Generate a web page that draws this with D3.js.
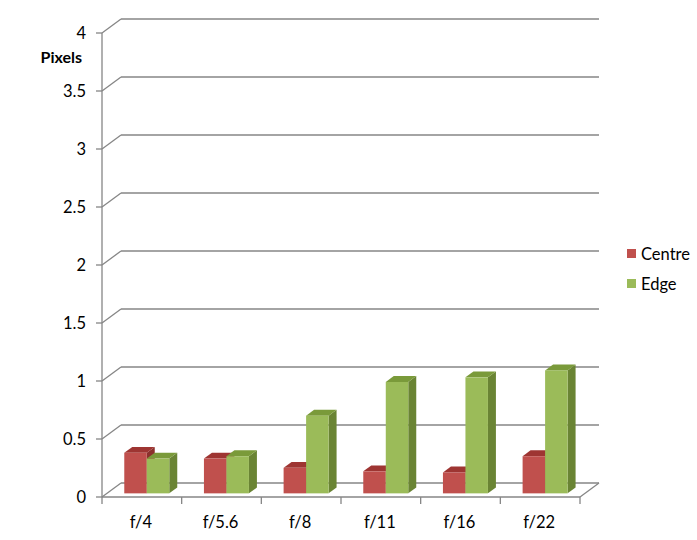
<!DOCTYPE html>
<html><head><meta charset="utf-8">
<script src="https://cdn.jsdelivr.net/npm/d3@7"></script>
<style>body{margin:0;background:#fff}svg{display:block}text{font-family:Lato,"Open Sans",sans-serif;fill:#000}</style>
</head><body><svg id="c" width="697" height="540"></svg>
<script>
const categories = ["f/4","f/5.6","f/8","f/11","f/16","f/22"];
const seriesNames = ["Centre","Edge"];
const centre = [0.35,0.30,0.22,0.19,0.18,0.32];
const edge = [0.30,0.32,0.67,0.96,1.00,1.06];
const yTicks = [0,0.5,1,1.5,2,2.5,3,3.5,4];
const yTickLabels = ["0","0.5","1","1.5","2","2.5","3","3.5","4"];

const colors = {
  Centre:{front:"#C0504D", top:"#9E3532", side:"#8C302D"},
  Edge:{front:"#9BBB59", top:"#7A9A3A", side:"#6A8434"}
};
const svg = d3.select("#c");
const L=102, R=580, DX=19, DY=-14;
const y = d3.scaleLinear().domain([0,4]).range([497,33]);
const x0 = d3.scaleBand().domain(categories).range([L,R]);
const bw = x0.bandwidth();
const barW = 22.5;
const x1 = d3.scaleBand().domain(seriesNames).range([bw/2-barW, bw/2+barW]);
const grid="#868686";

const g = svg.append("g");
yTicks.forEach((t,i)=>{
  const yf=y(t);
  g.append("line").attr("x1",L+DX).attr("x2",R+DX).attr("y1",yf+DY).attr("y2",yf+DY).attr("stroke",grid).attr("stroke-width",1.3);
  g.append("line").attr("x1",L).attr("x2",L+DX).attr("y1",yf).attr("y2",yf+DY).attr("stroke",grid).attr("stroke-width",1.3);
  g.append("line").attr("x1",L-6).attr("x2",L).attr("y1",yf).attr("y2",yf).attr("stroke",grid).attr("stroke-width",1.3);
  g.append("text").attr("x",86).attr("y",yf+6).attr("text-anchor","end").attr("font-size",16.5).text(yTickLabels[i]);
});
g.append("line").attr("x1",L).attr("x2",R).attr("y1",y(0)).attr("y2",y(0)).attr("stroke",grid).attr("stroke-width",1.3);
g.append("line").attr("x1",R).attr("x2",R+DX).attr("y1",y(0)).attr("y2",y(0)+DY).attr("stroke",grid).attr("stroke-width",1.3);
g.append("line").attr("x1",L).attr("x2",L).attr("y1",y(4)).attr("y2",y(0)).attr("stroke",grid).attr("stroke-width",1.3);
[...categories.map(c=>x0(c)), R].forEach(xx=>{
  g.append("line").attr("x1",xx).attr("x2",xx).attr("y1",y(0)).attr("y2",y(0)+7).attr("stroke",grid).attr("stroke-width",1.3);
});
categories.forEach(c=>{
  g.append("text").attr("x",x0(c)+bw/2-1).attr("y",528).attr("text-anchor","middle").attr("font-size",16.5).text(c);
});
svg.append("text").attr("x",82).attr("y",63).attr("text-anchor","end").attr("font-size",16).attr("font-weight","bold").text("Pixels");

const f0=0.26, f1=0.68;
const bars = svg.append("g");
categories.forEach((c,i)=>{
  [["Centre",centre[i]],["Edge",edge[i]]].forEach(([s,v])=>{
    const xa = x0(c)+x1(s)+f0*DX, xb = xa+x1.bandwidth();
    const yb = y(0)+f0*DY, yt = y(v)+f0*DY;
    const ddx=(f1-f0)*DX, ddy=(f1-f0)*DY;
    const col=colors[s];
    bars.append("path").attr("d",`M${xb},${yt}L${xb+ddx},${yt+ddy}L${xb+ddx},${yb+ddy}L${xb},${yb}Z`).attr("fill",col.side);
    bars.append("path").attr("d",`M${xa},${yt}L${xa+ddx},${yt+ddy}L${xb+ddx},${yt+ddy}L${xb},${yt}Z`).attr("fill",col.top);
    bars.append("rect").attr("x",xa).attr("y",yt).attr("width",xb-xa).attr("height",yb-yt).attr("fill",col.front);
  });
});

const leg = svg.append("g");
seriesNames.forEach((s,i)=>{
  const ly=254+i*30;
  leg.append("rect").attr("x",627).attr("y",ly-5).attr("width",9).attr("height",9).attr("fill",colors[s].front);
  leg.append("text").attr("x",641).attr("y",ly+6).attr("font-size",16.5).text(s);
});
</script></body></html>
